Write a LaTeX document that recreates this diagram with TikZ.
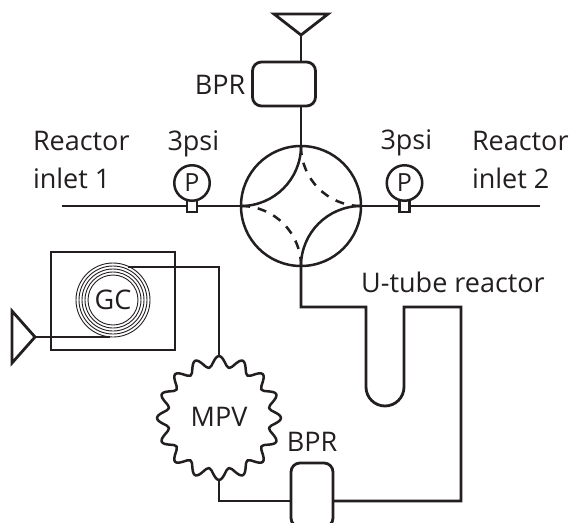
\documentclass[tikz,border=0pt]{standalone}
\usepackage{fontspec}
\setmainfont{Open Sans}
\definecolor{ink}{HTML}{231F20}
\tikzset{
  pipe/.style={line width=2.8pt,color=ink,line join=miter},
  thinpipe/.style={line width=2.5pt,color=ink},
  lbl/.style={font=\fontsize{27}{31}\selectfont,text=ink,inner sep=0pt,outer sep=0pt,anchor=base west},
  midlbl/.style={font=\fontsize{27}{31}\selectfont,text=ink,inner sep=0pt,outer sep=0pt},
  bprbox/.style={draw=ink,line width=2.8pt,rounded corners=9pt,inner sep=0pt,outer sep=0pt,fill=white},
  gaugebox/.style={draw=ink,line width=2.5pt,circle,minimum size=35.5pt,inner sep=0pt,outer sep=0pt,font=\fontsize{25}{25}\selectfont,text=ink,fill=white},
  stem/.style={draw=ink,line width=2.2pt,inner sep=0pt,outer sep=0pt,minimum width=10pt,minimum height=12pt,fill=white},
  ring/.style={draw=ink,line width=0.9pt,circle,inner sep=0pt,outer sep=0pt},
  vent/.style={draw=ink,line width=2.8pt,line join=miter,fill=white},
}
\begin{document}
\begin{tikzpicture}[x=1pt,y=-1pt]
\useasboundingbox[fill=white] (0,0) rectangle (574,523);
% named points
\coordinate (ventTop) at (301,35);
\coordinate (inL) at (62,206);
\coordinate (inR) at (540,206);
\coordinate (c1) at (301,307);
\coordinate (u1) at (366,307);
\coordinate (u2) at (366,387);
\coordinate (u3) at (404,307);
\coordinate (c2) at (461,307);
\coordinate (c3) at (461,501);
\coordinate (c4) at (219,501);
\coordinate (g1) at (128,267);
\coordinate (g2) at (219,267);
\coordinate (g3) at (110,337);
\coordinate (ventGC) at (35,337);
% rotary valve
\node[draw=ink,line width=2.5pt,circle,minimum size=120pt,inner sep=0pt,outer sep=0pt] (valve) at (301,206) {};
% connectors
\node[bprbox,minimum width=63pt,minimum height=44pt] (bprTop) at (284,84) {};
\node[bprbox,minimum width=42pt,minimum height=64pt] (bprLow) at (312,495) {};
\node[inner sep=0pt,outer sep=0pt,circle,minimum size=124pt] (mpv) at (219,418) {};
\draw[pipe] (ventTop) -- (ventTop |- bprTop.north);
\draw[pipe] (ventTop |- bprTop.south) -- (valve.north);
\draw[pipe] (inL) -- (valve.west);
\draw[pipe] (valve.east) -- (inR);
\draw[pipe] (valve.south) -- (c1) -- (u1) -- (u2) arc[start angle=180,end angle=360,radius=19pt] -- (u3) -- (c2) -- (c3) -- (bprLow.east |- c3);
\draw[pipe] (bprLow.west |- c3) -- (c4) -- (mpv.south);
\draw[pipe] (g1) -- (g2) -- (mpv.north);
% valve passages
\draw[thinpipe] (valve.north) arc[start angle=0,end angle=-90,radius=60pt];
\draw[thinpipe] (valve.east) arc[start angle=90,end angle=180,radius=60pt];
\draw[thinpipe,dash pattern=on 9pt off 8pt] (valve.north) arc[start angle=180,end angle=270,radius=60pt];
\draw[thinpipe,dash pattern=on 9pt off 8pt] (valve.west) arc[start angle=90,end angle=0,radius=60pt];
% gauges
\node[stem] (s1) at (192,206) {};
\node[stem] (s2) at (404.5,206) {};
\node[gaugebox] (p1) at (192,183) {P};
\node[gaugebox] (p2) at (404.5,183) {P};
% vents
\draw[vent] (274,14) -- (328,14) -- (ventTop) -- cycle;
\draw[vent] (12,311) -- (ventGC) -- (12,363) -- cycle;
% GC
\node[draw=ink,line width=2.2pt,inner sep=0pt,outer sep=0pt,minimum width=124pt,minimum height=98pt] (oven) at (113,301) {};
\foreach \r/\n in {25/a,28/b,31/c,34/d,37/e}{
  \node[ring,minimum size=2*\r pt] (ring\n) at (113,300) {};
}
\draw[pipe] (g1) -- (oven.east |- g1);
\draw[pipe] (ventGC) -- (g3);
\node[midlbl] (gc) at (113,300) {GC};
% MPV
\draw[line width=2.5pt,color=ink,line join=round] plot[smooth cycle,samples=128,domain=0:357.1875] ({219+(56.5+5.5*cos(16*\x))*sin(\x)},{418-(56.5+5.5*cos(16*\x))*cos(\x)});
\node[midlbl] (mpvt) at (219,417) {MPV};
% labels
\node[lbl] (r1a) at (33,150) {Reactor};
\node[lbl] (r1b) at (33,188) {inlet 1};
\node[lbl] (r2a) at (472,150) {Reactor};
\node[lbl] (r2b) at (472,188) {inlet 2};
\node[lbl] (psi1) at (167.5,150) {3psi};
\node[lbl] (psi2) at (380.5,149) {3psi};
\node[midlbl] (ut) at (453,282) {U-tube reactor};
\node[midlbl] (b1) at (220,85) {BPR};
\node[midlbl] (b2) at (312,442) {BPR};
\end{tikzpicture}
\end{document}
